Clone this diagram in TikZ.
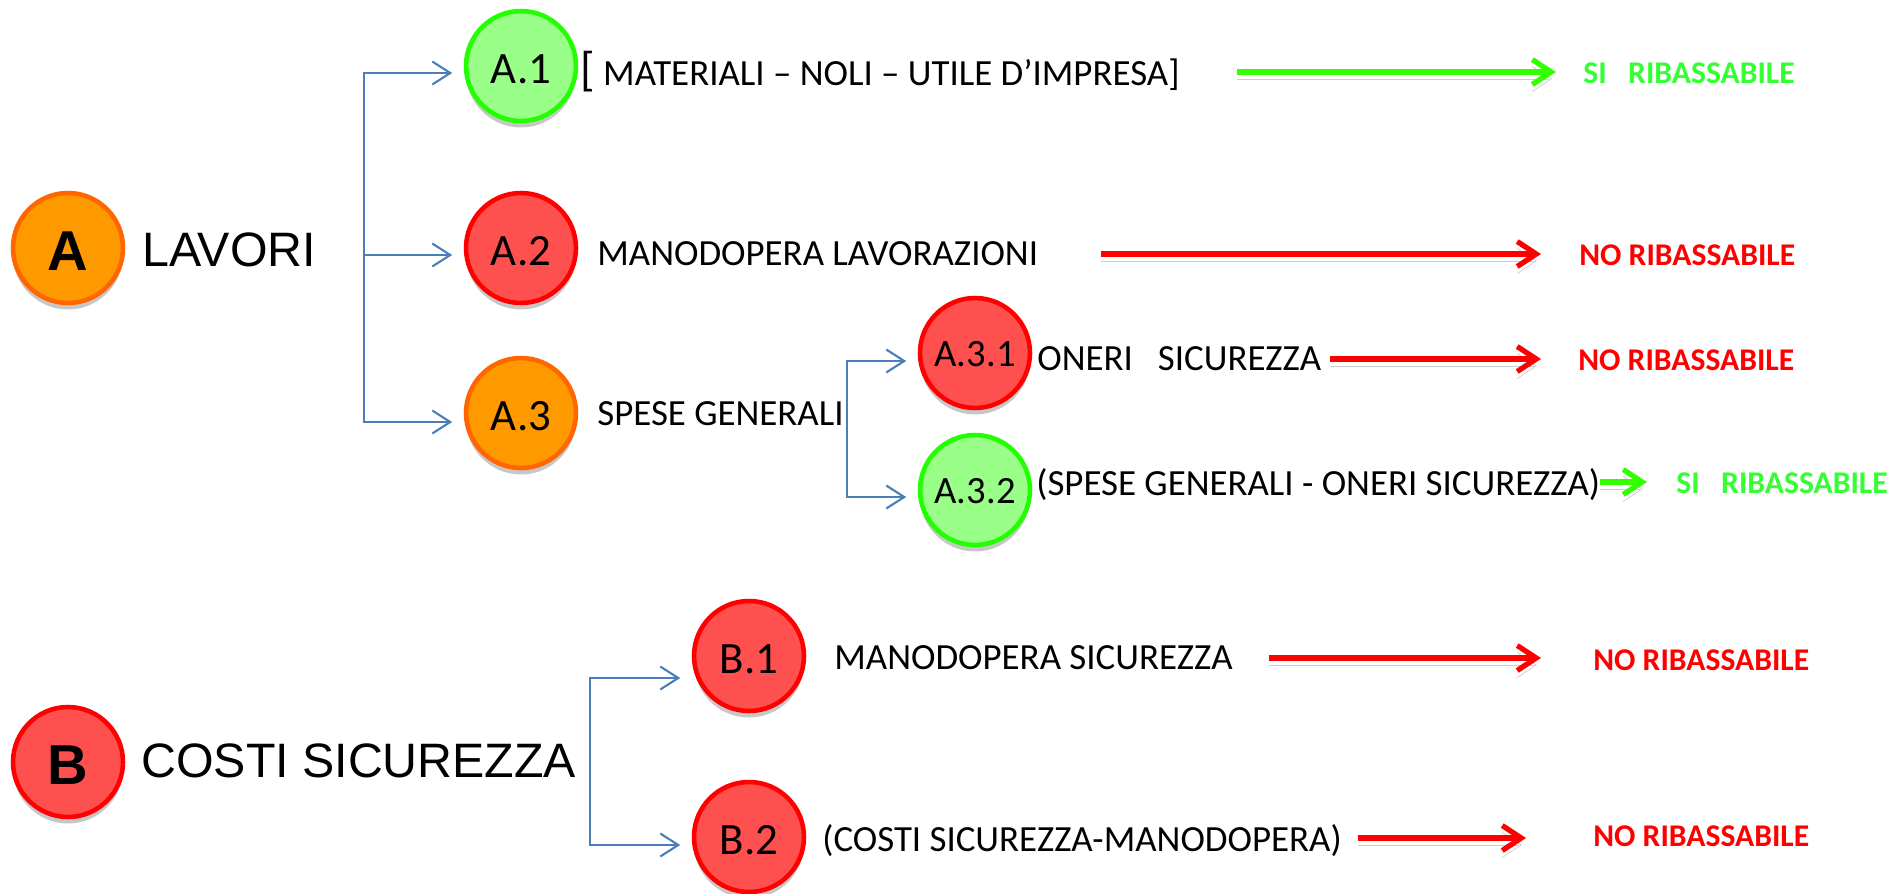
\documentclass[tikz,border=0pt]{standalone}
\usepackage{fontspec}
\setmainfont{Carlito}
\newfontfamily\arialfont{Liberation Sans}
\usetikzlibrary{arrows.meta}
\usetikzlibrary{shadows}

\definecolor{ballgreen}{HTML}{22FF00}
\definecolor{ballgreenfill}{HTML}{99FF88}
\definecolor{ballred}{HTML}{FF0000}
\definecolor{ballredfill}{HTML}{FF5050}
\definecolor{ballorange}{HTML}{FF6600}
\definecolor{ballorangefill}{HTML}{FF9900}
\definecolor{branchblue}{HTML}{4A7EBB}
\definecolor{yesgreen}{HTML}{33FF00}
\definecolor{yestext}{HTML}{33FF33}
\definecolor{nored}{HTML}{FF0000}

\begin{document}
\begin{tikzpicture}[x=.02cm,y=-.02cm,
  ball/.style={circle,minimum size=2.2cm,inner sep=0pt,line width=2.6pt,
    drop shadow={shadow xshift=0pt,shadow yshift=-.13cm,fill=black,opacity=.22},
    text height=20pt,text depth=0pt,font=\fontsize{25.5}{28}\selectfont},
  smallball/.style={text height=15pt,font=\fontsize{22}{24}\selectfont},
  greenball/.style={ball,draw=ballgreen,fill=ballgreenfill},
  redball/.style={ball,draw=ballred,fill=ballredfill},
  orangeball/.style={ball,draw=ballorange,fill=ballorangefill},
  bigletter/.style={text height=26pt,font=\arialfont\bfseries\fontsize{32}{34}\selectfont},
  head/.style={anchor=west,inner sep=0pt,text depth=0pt,font=\arialfont\fontsize{27.5}{30}\selectfont},
  txt/.style={anchor=west,inner sep=0pt,text depth=0pt,font=\fontsize{21}{25}\selectfont},
  res/.style={anchor=west,inner sep=0pt,text depth=0pt,font=\bfseries\fontsize{18}{21}\selectfont},
  branch/.style={draw=branchblue,line width=1.2pt,-{Straight Barb[length=.36cm,width=.46cm]}},
  verdict/.style={line width=3pt,-{Straight Barb[length=.38cm,width=.5cm]},
    preaction={draw=black,draw opacity=.2,transform canvas={yshift=-.14cm}}},
  yes/.style={verdict,draw=yesgreen},
  no/.style={verdict,draw=nored}]
  \useasboundingbox (0,0) rectangle (1893,893);

  \node[orangeball,bigletter] (a) at (68,248) {A};
  \node[head] (lavori) at (142,250) {LAVORI};
  \node[greenball] (a1) at (521,66) {A.1};
  \node[redball] (a2) at (521,248) {A.2};
  \node[orangeball] (a3) at (521,413) {A.3};
  \node[redball,smallball] (a31) at (975,353) {A.3.1};
  \node[greenball,smallball] (a32) at (975,490) {A.3.2};

  \node[txt] (ta1) at (580,72) {\smash{\fontsize{27}{28}\selectfont[}\ MATERIALI – NOLI – UTILE D’IMPRESA]};
  \node[txt] (ta2) at (597,254) {MANODOPERA LAVORAZIONI};
  \node[txt] (ta3) at (597,414) {SPESE GENERALI};
  \node[txt] (ta31) at (1037,359) {ONERI\ \ \ SICUREZZA};
  \node[txt] (ta32) at (1036,482) {(SPESE GENERALI - ONERI SICUREZZA)};

  \node[res,text=yestext] (ra1) at (1583,73) {SI\ \ \ RIBASSABILE};
  \node[res,text=nored] (ra2) at (1579,255) {NO RIBASSABILE};
  \node[res,text=nored] (ra31) at (1578,360) {NO RIBASSABILE};
  \node[res,text=yestext] (ra32) at (1676,483) {SI\ \ \ RIBASSABILE};

  \node[redball,bigletter] (b) at (68,762) {B};
  \node[head] (costi) at (141,761) {COSTI SICUREZZA};
  \node[redball] (b1) at (749,656) {B.1};
  \node[redball] (b2) at (749,837) {B.2};
  \node[txt] (tb1) at (834,658) {MANODOPERA SICUREZZA};
  \node[txt] (tb2) at (822,838) {(COSTI SICUREZZA-MANODOPERA)};
  \node[res,text=nored] (rb1) at (1593,660) {NO RIBASSABILE};
  \node[res,text=nored] (rb2) at (1593,836) {NO RIBASSABILE};

  \coordinate (ja) at (364,255);
  \draw[branch] (ja) |- ([xshift=-.23cm,yshift=-.14cm]a1.west);
  \draw[branch] (ja) -- ([xshift=-.23cm]a2.west |- ja);
  \draw[branch] (ja) |- ([xshift=-.23cm,yshift=-.18cm]a3.west);
  \coordinate (j3) at (847,413);
  \draw[branch] (j3) |- ([xshift=-.23cm,yshift=-.16cm]a31.west);
  \draw[branch] (j3) |- ([xshift=-.23cm,yshift=-.14cm]a32.west);
  \coordinate (jb) at (590,760);
  \draw[branch] (jb) |- ([xshift=-.23cm,yshift=-.44cm]b1.west);
  \draw[branch] (jb) |- ([xshift=-.23cm,yshift=-.16cm]b2.west);

  \draw[yes,shorten <=1.14cm,shorten >=.54cm] (ta1.east) -- (ta1.east -| ra1.west);
  \draw[no,shorten <=1.26cm,shorten >=.76cm] (ta2.east) -- (ta2.east -| ra2.west);
  \draw[no,shorten <=.18cm,shorten >=.74cm] (ta31.east) -- (ta31.east -| ra31.west);
  \draw[yes,shorten >=.58cm] (ta32.east) -- (ta32.east -| ra32.west);
  \draw[no,shorten <=.72cm,shorten >=1.04cm] (tb1.east) -- (tb1.east -| rb1.west);
  \draw[no,shorten <=.32cm,shorten >=1.34cm] (tb2.east) -- (tb2.east -| rb2.west);
\end{tikzpicture}
\end{document}
